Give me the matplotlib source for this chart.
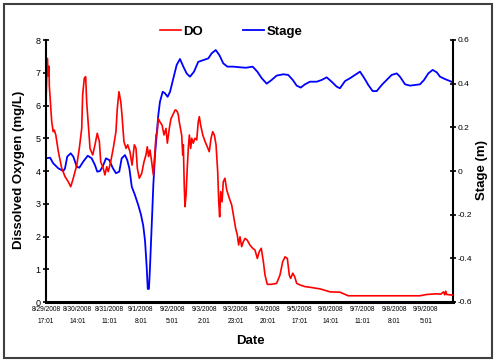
import matplotlib
matplotlib.use("Agg")
import matplotlib.pyplot as plt
from matplotlib.patches import Rectangle

# Hours since 8/29/2008 17:01
do_hours = [0, 0.9, 1.5, 2.0, 2.2, 3.8, 4.8, 5.5, 6.5, 8.2, 10.4, 12.6, 14.8, 16.4, 18.1,
            20.4, 22.1, 23.7, 24.3, 25.4, 26.3, 27.0, 28.1, 29.2, 31.0, 32.5, 34.0, 35.4,
            36.3, 38.0, 39.1, 40.3, 41.3, 42.9, 44.6, 46.4, 47.3, 48.4, 49.6, 50.4, 51.7,
            53.1, 54.2, 55.7, 57.1, 58.6, 59.7, 60.6, 61.9, 63.5, 65.0, 66.3, 67.2, 68.1,
            69.0, 70.1, 71.2, 72.3, 73.0, 73.8, 74.5, 75.6, 77.0, 78.3, 79.6, 80.5, 81.8,
            82.9, 84.1, 85.6, 86.2, 87.1, 87.8, 88.4, 90.0, 90.7, 91.1, 91.7, 92.2, 92.9,
            93.7, 94.4, 95.1, 96.0, 96.7, 97.7, 98.8, 100.0, 101.0, 101.7, 102.6, 104.0,
            105.5, 107.0, 108.3, 109.5, 110.6, 111.7, 112.8, 113.9, 114.6, 115.2, 115.9,
            116.8, 117.6, 118.7, 119.9, 121.6, 123.2, 124.7, 125.8, 126.9, 127.8, 128.7,
            129.8, 130.9, 132.0, 133.5, 135.3, 137.1, 138.6, 140.2, 141.5, 142.8, 144.2,
            145.3, 146.8, 149.7, 153.0, 155.2, 157.0, 158.6, 160.1, 161.4, 162.3, 163.7,
            165.0, 166.3, 168.5, 171.8, 175.1, 181.8, 188.4, 195.0, 200.5, 212.8, 234.8,
            248.1, 252.6, 259.2, 262.0, 263.7, 264.5, 265.2, 265.8, 268.0, 269.8]
do_values = [6.1, 7.44, 6.9, 7.2, 6.6, 5.5, 5.2, 5.25, 5.1, 4.59, 4.09, 3.83, 3.67, 3.52, 3.78,
             4.18, 4.69, 5.3, 6.32, 6.83, 6.88, 6.1, 5.4, 4.69, 4.49, 4.8, 5.15, 4.9,
             4.28, 4.08, 3.88, 4.13, 3.98, 4.28, 4.69, 5.2, 5.91, 6.42, 6.12, 5.71, 4.9,
             4.69, 4.8, 4.59, 4.18, 4.8, 4.69, 4.08, 3.78, 3.93, 4.28, 4.49, 4.74, 4.44,
             4.64, 4.28, 3.88, 4.59, 5.1, 5.2, 5.6, 5.5, 5.4, 5.1, 5.3, 4.85, 5.3,
             5.6, 5.71, 5.86, 5.86, 5.81, 5.71, 5.5, 5.1, 4.49, 4.8, 3.57, 2.91, 3.27,
             4.08, 4.69, 5.1, 4.69, 5.0, 4.85, 5.0, 4.95, 5.5, 5.66, 5.4, 5.1,
             4.9, 4.74, 4.59, 5.0, 5.2, 5.1, 4.8, 3.98, 3.06, 2.6, 3.37,
             3.06, 3.67, 3.78, 3.42, 3.17, 2.96, 2.56, 2.25, 2.05, 1.74, 1.99,
             1.69, 1.84, 1.94, 1.89, 1.74, 1.64, 1.59, 1.33, 1.54, 1.64, 1.23,
             0.82, 0.54, 0.54, 0.57, 0.82, 1.23, 1.38, 1.33, 0.82, 0.72, 0.88,
             0.77, 0.57, 0.52, 0.47, 0.45, 0.40, 0.31, 0.30, 0.19, 0.19, 0.19,
             0.19, 0.23, 0.25, 0.24, 0.31, 0.22, 0.33, 0.23, 0.22, 0.21]

stage_hours = [0, 2.7, 4.8, 8.2, 11.5, 12.6, 14.1, 16.4, 18.1, 20.4, 22.1, 24.7, 27.7, 30.3,
               32.5, 34.0, 35.8, 37.6, 39.8, 42.0, 44.2, 46.4, 48.6, 50.2, 52.4, 53.9, 55.3,
               56.9, 59.0, 61.2, 63.0, 64.5, 65.7, 66.8, 67.5, 68.3, 69.0, 69.7, 70.5, 71.2,
               72.3, 73.4, 74.5, 75.6, 77.4, 78.9, 80.7, 82.3, 84.5, 86.7, 88.9, 91.1, 93.3,
               95.5, 98.2, 101.0, 104.4, 107.7, 109.9, 112.6, 115.0, 117.6, 120.3, 124.3,
               128.7, 132.7, 137.1, 140.2, 143.1, 146.4, 149.7, 153.0, 157.4, 160.7, 163.7,
               166.3, 169.0, 171.8, 175.1, 179.6, 182.9, 186.2, 189.5, 192.9, 195.0, 198.4,
               201.7, 205.0, 208.3, 211.0, 213.8, 216.7, 219.4, 222.7, 226.0, 229.3, 232.7,
               234.8, 238.2, 241.5, 244.8, 248.1, 250.8, 253.6, 256.5, 259.2, 261.4, 264.7,
               268.0, 269.8]
stage_values = [0.058, 0.061, 0.035, 0.012, 0.0, 0.012, 0.066, 0.081, 0.066, 0.02, 0.015, 0.043,
                0.07, 0.058, 0.027, -0.003, 0.0, 0.02, 0.058, 0.05, 0.015, -0.01, -0.003, 0.058,
                0.073, 0.05, 0.012, -0.072, -0.11, -0.156, -0.20, -0.25, -0.32, -0.44, -0.54,
                -0.54, -0.44, -0.32, -0.186, -0.064, 0.073, 0.165, 0.256, 0.317, 0.363, 0.356,
                0.34, 0.363, 0.425, 0.486, 0.513, 0.478, 0.447, 0.432, 0.455, 0.5, 0.508,
                0.516, 0.539, 0.554, 0.531, 0.493, 0.478, 0.478, 0.475, 0.473, 0.478, 0.455,
                0.425, 0.4, 0.417, 0.437, 0.443, 0.44, 0.417, 0.391, 0.382, 0.397, 0.409,
                0.409, 0.417, 0.429, 0.409, 0.386, 0.379, 0.412, 0.425, 0.44, 0.455, 0.427,
                0.394, 0.366, 0.366, 0.394, 0.417, 0.44, 0.447, 0.432, 0.397, 0.391, 0.394,
                0.397, 0.417, 0.447, 0.463, 0.452, 0.432, 0.421, 0.412, 0.406]

tick_hours = [0, 21, 42, 63, 84, 105, 126, 147, 168, 189, 210, 231, 252]
tick_labels = ["8/29/2008\n17:01", "8/30/2008\n14:01", "8/31/2008\n11:01", "9/1/2008\n8:01",
               "9/2/2008\n5:01", "9/3/2008\n2:01", "9/3/2008\n23:01", "9/4/2008\n20:01",
               "9/5/2008\n17:01", "9/6/2008\n14:01", "9/7/2008\n11:01", "9/8/2008\n8:01",
               "9/9/2008\n5:01"]
left_ticks = [0, 1, 2, 3, 4, 5, 6, 7, 8]
right_ticks = [-0.6, -0.4, -0.2, 0, 0.2, 0.4, 0.6]
right_labels = ["-0.6", "-0.4", "-0.2", "0", "0.2", "0.4", "0.6"]

plt.rcParams['font.family'] = ['Liberation Sans', 'DejaVu Sans']

fig = plt.figure(figsize=(5.0, 3.64), dpi=100)
W, H = 500, 364
ax = fig.add_axes([46 / W, 1 - 302 / H, (453 - 46) / W, (302 - 40) / H])
ax2 = ax.twinx()

l1, = ax.plot(do_hours, do_values, color='#ff0000', lw=1.2, label='DO')
l2, = ax2.plot(stage_hours, stage_values, color='#0000ff', lw=1.3, label='Stage')
ax.set_zorder(ax2.get_zorder() + 1)
ax.patch.set_visible(False)

ax.set_xlim(0, 270)
ax.set_ylim(0, 8)
ax2.set_ylim(-0.6, 0.6)

for a in (ax, ax2):
    a.spines['top'].set_visible(False)
    for s in a.spines.values():
        s.set_color('black')
ax.spines['bottom'].set_linewidth(2.2)
ax.spines['left'].set_linewidth(1.5)
ax2.spines['right'].set_linewidth(1.5)
ax.spines['right'].set_visible(False)
ax2.spines['left'].set_visible(False)
ax2.spines['bottom'].set_visible(False)

ax.set_yticks(left_ticks)
ax.set_yticklabels([str(t) for t in left_ticks], fontsize=6.5)
ax.tick_params(axis='y', direction='inout', length=4, width=1.2, pad=2)
ax2.set_yticks(right_ticks)
ax2.set_yticklabels(right_labels, fontsize=6)
ax2.tick_params(axis='y', direction='inout', length=4, width=1.2, pad=1)
ax.set_xticks(tick_hours)
ax.set_xticklabels(tick_labels, fontsize=4.8, linespacing=1.9)
ax.tick_params(axis='x', length=0, pad=3)

fig.text(19 / W, 1 - 170 / H, 'Dissolved Oxygen (mg/L)', rotation=90, fontsize=9.5,
         fontweight='bold', ha='center', va='center')
fig.text(482 / W, 1 - 170 / H, 'Stage (m)', rotation=90, fontsize=9.5,
         fontweight='bold', ha='center', va='center')
fig.text(250 / W, 1 - 341 / H, 'Date', fontsize=9.5, fontweight='bold',
         ha='center', va='center')

fig.legend(handles=[l1, l2], loc='center', bbox_to_anchor=(231 / W, 1 - 32 / H),
           ncol=2, frameon=False, fontsize=9.5, handlelength=1.6, handletextpad=0.2,
           columnspacing=3.0, prop={'weight': 'bold', 'size': 9.5})

fig.patches.append(Rectangle((4 / W, 1 - 358 / H), (492 - 4) / W, (358 - 4) / H,
                             transform=fig.transFigure, fill=False,
                             edgecolor='#404040', lw=1.5))

fig.savefig('out.png', dpi=100)
